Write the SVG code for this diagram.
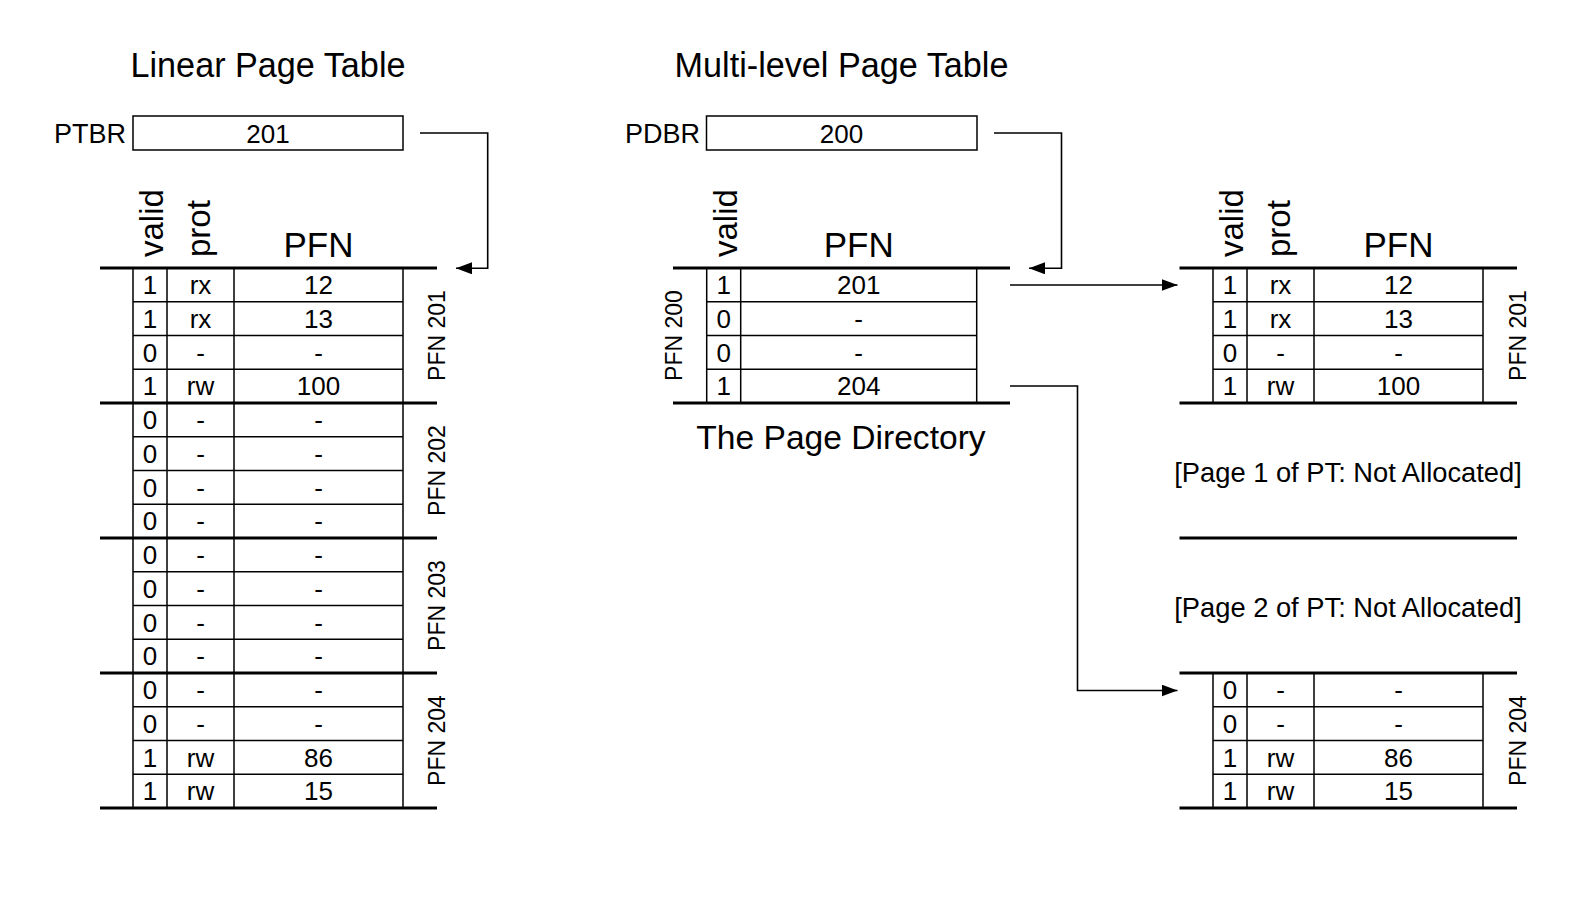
<svg xmlns="http://www.w3.org/2000/svg" width="1580" height="897" viewBox="0 0 1580 897">
<defs>
<style>
text{font-family:"Liberation Sans",Arial,Helvetica,sans-serif;fill:#000}
.t{font-size:26px;text-anchor:middle}
.title{font-size:34.2px;text-anchor:middle}
.sub{font-size:33.6px;text-anchor:middle}
.hdr{font-size:33px}
.hc{font-size:35px;text-anchor:middle}
.lbl{font-size:27px;text-anchor:end}
.pl{font-size:23px;text-anchor:middle}
.na{font-size:27.3px;text-anchor:middle}
.thin{stroke:#000;stroke-width:1.5;fill:none}
.thick{stroke:#000;stroke-width:3.2;fill:none}
.conn{stroke:#000;stroke-width:1.6;fill:none}
</style>
<marker id="arr" markerUnits="userSpaceOnUse" markerWidth="16" markerHeight="12" refX="16" refY="6" orient="auto">
<path d="M0,0 L16,6 L0,12 z" fill="#000"/>
</marker>
</defs>
<rect width="1580" height="897" fill="#fff"/>

<g id="title-linear"><text class="title" x="268" y="77">Linear Page Table</text></g>
<g id="title-multi"><text class="title" x="841.5" y="77">Multi-level Page Table</text></g>

<g id="ptbr">
<text class="lbl" x="126" y="143">PTBR</text>
<rect class="thin" x="133" y="116" width="270" height="34"/>
<text class="t" x="268" y="143">201</text>
</g>

<g id="pdbr">
<text class="lbl" x="700" y="143">PDBR</text>
<rect class="thin" x="706.5" y="116" width="270.5" height="34"/>
<text class="t" x="841.5" y="143">200</text>
</g>

<g id="linear-table">
<text class="hdr" transform="translate(163,257) rotate(-90)">valid</text>
<text class="hdr" transform="translate(210,257) rotate(-90)">prot</text>
<text class="hc" x="318.5" y="257">PFN</text>
<path class="thin" d="M133,268V808M167,268V808M234,268V808M403,268V808
M133,301.75H403M133,335.5H403M133,369.25H403
M133,436.75H403M133,470.5H403M133,504.25H403
M133,571.75H403M133,605.5H403M133,639.25H403
M133,706.75H403M133,740.5H403M133,774.25H403"/>
<path class="thick" d="M100,268H437M100,403H437M100,538H437M100,673H437M100,808H437"/>
<g class="t">
<text x="150" y="294">1</text><text x="200.5" y="294">rx</text><text x="318.5" y="294">12</text>
<text x="150" y="327.75">1</text><text x="200.5" y="327.75">rx</text><text x="318.5" y="327.75">13</text>
<text x="150" y="361.5">0</text><text x="200.5" y="361.5">-</text><text x="318.5" y="361.5">-</text>
<text x="150" y="395.25">1</text><text x="200.5" y="395.25">rw</text><text x="318.5" y="395.25">100</text>
<text x="150" y="429">0</text><text x="200.5" y="429">-</text><text x="318.5" y="429">-</text>
<text x="150" y="462.75">0</text><text x="200.5" y="462.75">-</text><text x="318.5" y="462.75">-</text>
<text x="150" y="496.5">0</text><text x="200.5" y="496.5">-</text><text x="318.5" y="496.5">-</text>
<text x="150" y="530.25">0</text><text x="200.5" y="530.25">-</text><text x="318.5" y="530.25">-</text>
<text x="150" y="564">0</text><text x="200.5" y="564">-</text><text x="318.5" y="564">-</text>
<text x="150" y="597.75">0</text><text x="200.5" y="597.75">-</text><text x="318.5" y="597.75">-</text>
<text x="150" y="631.5">0</text><text x="200.5" y="631.5">-</text><text x="318.5" y="631.5">-</text>
<text x="150" y="665.25">0</text><text x="200.5" y="665.25">-</text><text x="318.5" y="665.25">-</text>
<text x="150" y="699">0</text><text x="200.5" y="699">-</text><text x="318.5" y="699">-</text>
<text x="150" y="732.75">0</text><text x="200.5" y="732.75">-</text><text x="318.5" y="732.75">-</text>
<text x="150" y="766.5">1</text><text x="200.5" y="766.5">rw</text><text x="318.5" y="766.5">86</text>
<text x="150" y="800.25">1</text><text x="200.5" y="800.25">rw</text><text x="318.5" y="800.25">15</text>
</g>
<text class="pl" transform="translate(445,335.5) rotate(-90)">PFN 201</text>
<text class="pl" transform="translate(445,470.5) rotate(-90)">PFN 202</text>
<text class="pl" transform="translate(445,605.5) rotate(-90)">PFN 203</text>
<text class="pl" transform="translate(445,740.5) rotate(-90)">PFN 204</text>
</g>

<g id="page-directory">
<text class="hdr" transform="translate(736.5,257) rotate(-90)">valid</text>
<text class="hc" x="858.7" y="257">PFN</text>
<path class="thin" d="M706.7,268V403M740.7,268V403M976.7,268V403
M706.7,301.75H976.7M706.7,335.5H976.7M706.7,369.25H976.7"/>
<path class="thick" d="M673,268H1010M673,403H1010"/>
<g class="t">
<text x="723.7" y="294">1</text><text x="858.7" y="294">201</text>
<text x="723.7" y="327.75">0</text><text x="858.7" y="327.75">-</text>
<text x="723.7" y="361.5">0</text><text x="858.7" y="361.5">-</text>
<text x="723.7" y="395.25">1</text><text x="858.7" y="395.25">204</text>
</g>
<text class="pl" transform="translate(681.5,335.5) rotate(-90)">PFN 200</text>
<text class="sub" x="841" y="449">The Page Directory</text>
</g>

<g id="pt-page0">
<text class="hdr" transform="translate(1243,257) rotate(-90)">valid</text>
<text class="hdr" transform="translate(1290,257) rotate(-90)">prot</text>
<text class="hc" x="1398.5" y="257">PFN</text>
<path class="thin" d="M1213,268V403M1247,268V403M1314,268V403M1483,268V403
M1213,301.75H1483M1213,335.5H1483M1213,369.25H1483"/>
<path class="thick" d="M1179.5,268H1517M1179.5,403H1517"/>
<g class="t">
<text x="1230" y="294">1</text><text x="1280.5" y="294">rx</text><text x="1398.5" y="294">12</text>
<text x="1230" y="327.75">1</text><text x="1280.5" y="327.75">rx</text><text x="1398.5" y="327.75">13</text>
<text x="1230" y="361.5">0</text><text x="1280.5" y="361.5">-</text><text x="1398.5" y="361.5">-</text>
<text x="1230" y="395.25">1</text><text x="1280.5" y="395.25">rw</text><text x="1398.5" y="395.25">100</text>
</g>
<text class="pl" transform="translate(1526,335.5) rotate(-90)">PFN 201</text>
</g>

<g id="pt-page1">
<text class="na" x="1348" y="482">[Page 1 of PT: Not Allocated]</text>
<path class="thick" d="M1179.5,538H1517"/>
</g>

<g id="pt-page2">
<text class="na" x="1348" y="617">[Page 2 of PT: Not Allocated]</text>
</g>

<g id="pt-page3">
<path class="thin" d="M1213,673V808M1247,673V808M1314,673V808M1483,673V808
M1213,706.75H1483M1213,740.5H1483M1213,774.25H1483"/>
<path class="thick" d="M1179.5,673H1517M1179.5,808H1517"/>
<g class="t">
<text x="1230" y="699">0</text><text x="1280.5" y="699">-</text><text x="1398.5" y="699">-</text>
<text x="1230" y="732.75">0</text><text x="1280.5" y="732.75">-</text><text x="1398.5" y="732.75">-</text>
<text x="1230" y="766.5">1</text><text x="1280.5" y="766.5">rw</text><text x="1398.5" y="766.5">86</text>
<text x="1230" y="800.25">1</text><text x="1280.5" y="800.25">rw</text><text x="1398.5" y="800.25">15</text>
</g>
<text class="pl" transform="translate(1526,740.5) rotate(-90)">PFN 204</text>
</g>

<g id="connectors">
<path class="conn" marker-end="url(#arr)" d="M420,133H487.7V268.3H456"/>
<path class="conn" marker-end="url(#arr)" d="M994,133H1061.5V268.3H1029"/>
<path class="conn" marker-end="url(#arr)" d="M1010,285H1177.5"/>
<path class="conn" marker-end="url(#arr)" d="M1010,386H1077.5V690.5H1177.5"/>
</g>
</svg>
